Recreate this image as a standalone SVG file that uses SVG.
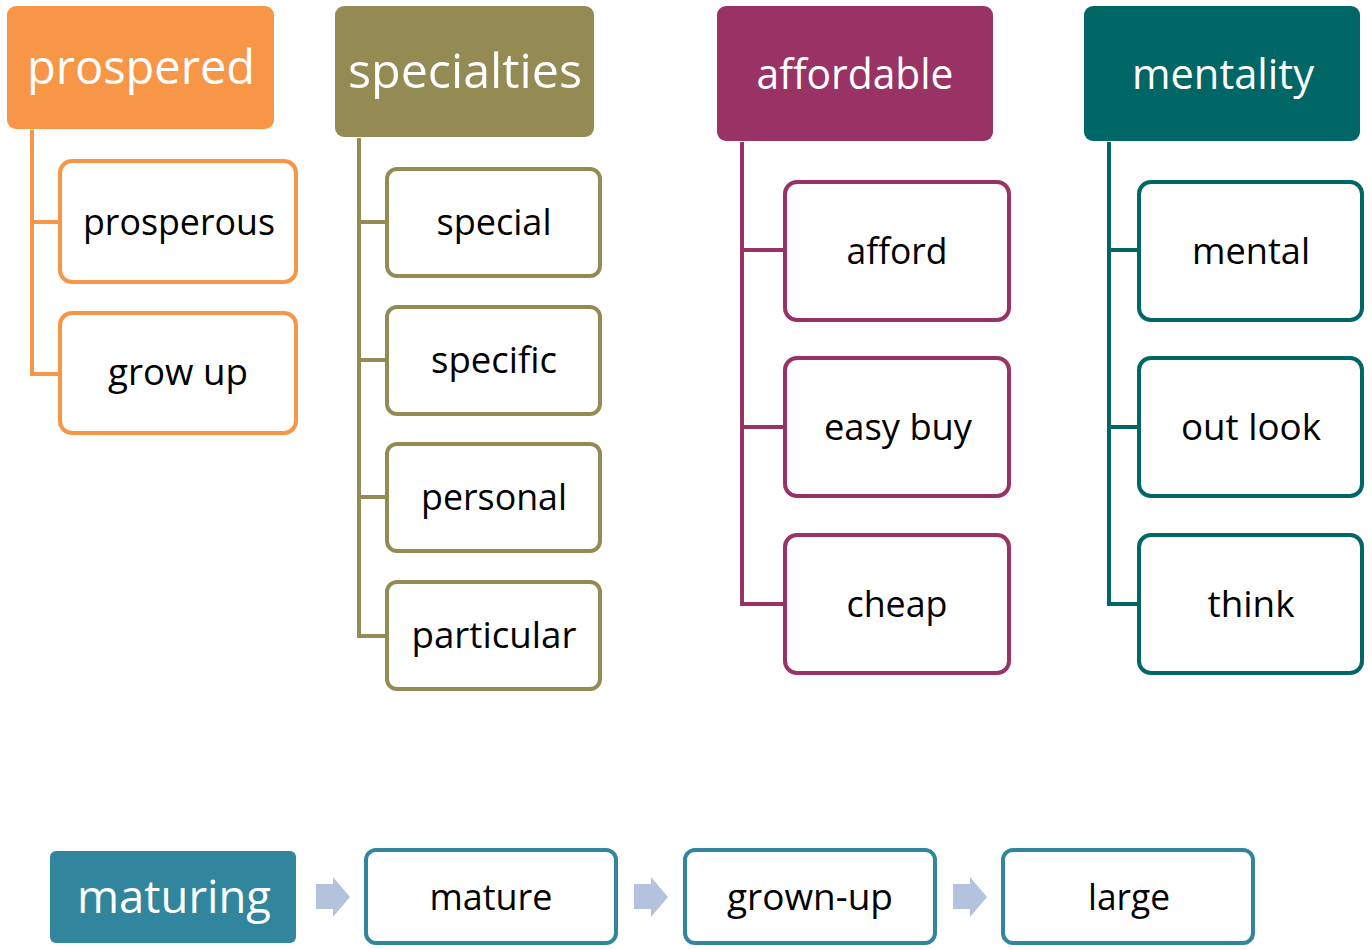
<svg xmlns="http://www.w3.org/2000/svg" width="1372" height="949" viewBox="0 0 1372 949">
<style>
text{font-family:"Open Sans","Noto Sans",sans-serif;text-anchor:middle}
.h{fill:#fff}
.c{fill:#000;font-size:36px}
.box{fill:#fff;stroke-width:4}
.or{stroke:#F79646}.ol{stroke:#948A54}.pu{stroke:#993366}.te{stroke:#006666}.bl{stroke:#31859C}
.ln{fill:none;stroke-width:4}
.ar{fill:#B3C2DD}
</style>
<rect width="1372" height="949" fill="#fff"/>
<g id="connectors">
<path class="ln or" d="M32 130V374H60M32 222H60"/>
<path class="ln ol" d="M359 138V636H387M359 222H387M359 360H387M359 497H387"/>
<path class="ln pu" d="M742 142V604H785M742 250H785M742 427H785"/>
<path class="ln te" d="M1109 142V604H1139M1109 250H1139M1109 427H1139"/>
<path class="ar" d="M316 884H333V877L350 897L333 917V909H316Z"/>
<path class="ar" d="M634 884H651V877L668 897L651 917V909H634Z"/>
<path class="ar" d="M953 884H970V877L987 897L970 917V909H953Z"/>
</g>
<g id="prospered"><rect x="7" y="6" width="267" height="123" rx="9" fill="#F79646"/><text class="h" x="141" y="84" font-size="48" textLength="228" lengthAdjust="spacingAndGlyphs">prospered</text></g>
<g id="prosperous"><rect class="box or" x="60" y="161" width="236" height="121" rx="12"/><text class="c" x="179" y="235" textLength="192" lengthAdjust="spacingAndGlyphs">prosperous</text></g>
<g id="grow-up"><rect class="box or" x="60" y="313" width="236" height="120" rx="12"/><text class="c" x="178" y="385" textLength="140" lengthAdjust="spacingAndGlyphs">grow up</text></g>
<g id="specialties"><rect x="335" y="6" width="259" height="131" rx="9" fill="#948A54"/><text class="h" x="465" y="88" font-size="48" textLength="234" lengthAdjust="spacingAndGlyphs">specialties</text></g>
<g id="special"><rect class="box ol" x="387" y="169" width="213" height="107" rx="10"/><text class="c" x="494" y="235" textLength="115" lengthAdjust="spacingAndGlyphs">special</text></g>
<g id="specific"><rect class="box ol" x="387" y="307" width="213" height="107" rx="10"/><text class="c" x="494" y="373" textLength="126" lengthAdjust="spacingAndGlyphs">specific</text></g>
<g id="personal"><rect class="box ol" x="387" y="444" width="213" height="107" rx="10"/><text class="c" x="494" y="510" textLength="146" lengthAdjust="spacingAndGlyphs">personal</text></g>
<g id="particular"><rect class="box ol" x="387" y="582" width="213" height="107" rx="10"/><text class="c" x="494" y="648" textLength="165" lengthAdjust="spacingAndGlyphs">particular</text></g>
<g id="affordable"><rect x="717" y="6" width="276" height="135" rx="9" fill="#993366"/><text class="h" x="855" y="89" font-size="42" textLength="197" lengthAdjust="spacingAndGlyphs">affordable</text></g>
<g id="afford"><rect class="box pu" x="785" y="182" width="224" height="138" rx="12"/><text class="c" x="897" y="264" textLength="101" lengthAdjust="spacingAndGlyphs">afford</text></g>
<g id="easy-buy"><rect class="box pu" x="785" y="358" width="224" height="138" rx="12"/><text class="c" x="898" y="440" textLength="148" lengthAdjust="spacingAndGlyphs">easy buy</text></g>
<g id="cheap"><rect class="box pu" x="785" y="535" width="224" height="138" rx="12"/><text class="c" x="897" y="617" textLength="101" lengthAdjust="spacingAndGlyphs">cheap</text></g>
<g id="mentality"><rect x="1084" y="6" width="276" height="135" rx="9" fill="#006666"/><text class="h" x="1223" y="89" font-size="42" textLength="182" lengthAdjust="spacingAndGlyphs">mentality</text></g>
<g id="mental"><rect class="box te" x="1139" y="182" width="223" height="138" rx="12"/><text class="c" x="1251" y="264" textLength="118" lengthAdjust="spacingAndGlyphs">mental</text></g>
<g id="out-look"><rect class="box te" x="1139" y="358" width="223" height="138" rx="12"/><text class="c" x="1251" y="440" textLength="140" lengthAdjust="spacingAndGlyphs">out look</text></g>
<g id="think"><rect class="box te" x="1139" y="535" width="223" height="138" rx="12"/><text class="c" x="1251" y="617" textLength="87" lengthAdjust="spacingAndGlyphs">think</text></g>
<g id="maturing"><rect x="50" y="851" width="246" height="92" rx="6" fill="#31859C"/><text class="h" x="174" y="913" font-size="45" textLength="194" lengthAdjust="spacingAndGlyphs">maturing</text></g>
<g id="mature"><rect class="box bl" x="366" y="850" width="250" height="93" rx="10"/><text class="c" x="491" y="910" textLength="123" lengthAdjust="spacingAndGlyphs">mature</text></g>
<g id="grown-up"><rect class="box bl" x="685" y="850" width="250" height="93" rx="10"/><text class="c" x="810" y="910" textLength="166" lengthAdjust="spacingAndGlyphs">grown-up</text></g>
<g id="large"><rect class="box bl" x="1003" y="850" width="250" height="93" rx="10"/><text class="c" x="1129" y="910" textLength="82" lengthAdjust="spacingAndGlyphs">large</text></g>
</svg>
